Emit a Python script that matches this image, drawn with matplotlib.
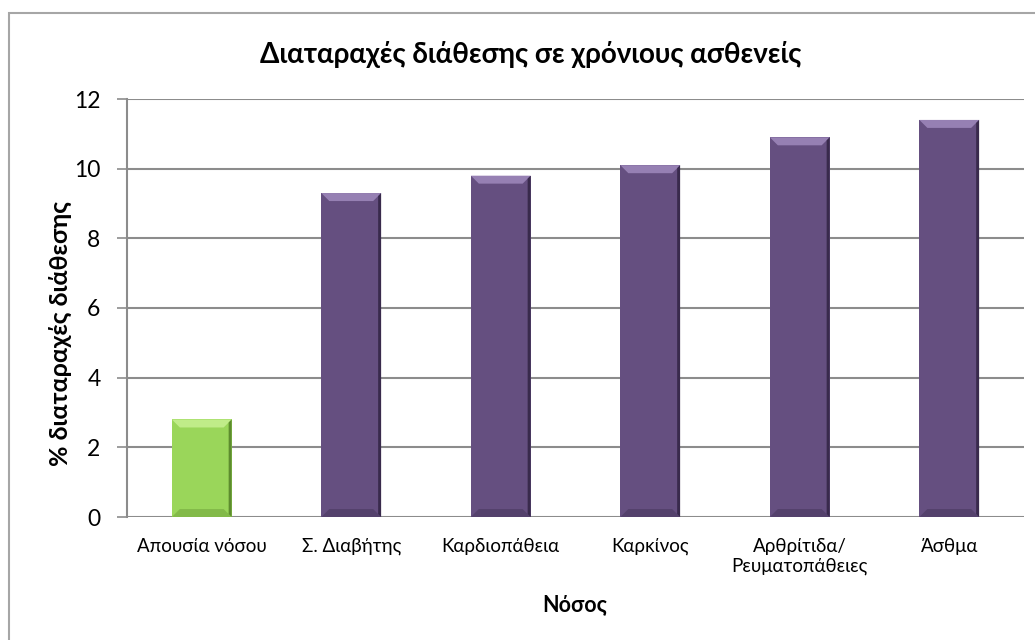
import matplotlib
matplotlib.use("Agg")
import matplotlib.pyplot as plt
from matplotlib.patches import Rectangle, Polygon

categories = ["Απουσία νόσου", "Σ. Διαβήτης", "Καρδιοπάθεια", "Καρκίνος",
              "Αρθρίτιδα/\nΡευματοπάθειες", "Άσθμα"]
values = [2.8, 9.3, 9.8, 10.1, 10.9, 11.4]
yticks = [0, 2, 4, 6, 8, 10, 12]
title = "Διαταραχές διάθεσης σε χρόνιους ασθενείς"
xlabel = "Νόσος"
ylabel = "% διαταραχές διάθεσης"

FONT = ["Lato", "DejaVu Sans"]
plt.rcParams["font.family"] = FONT

W, H = 1035, 640
fig = plt.figure(figsize=(W / 100, H / 100), dpi=100)
fig.patch.set_facecolor("white")

# outer chart frame (right/bottom edges outside the image)
fig.patches.append(Rectangle((9 / W, -0.2), 1.5, (H - 13) / H + 0.2,
                             transform=fig.transFigure, fill=False,
                             edgecolor="#a6a6a6", linewidth=1.5, zorder=0))

ax = fig.add_axes([127 / W, (H - 517) / H, (1024 - 127) / W, (517 - 99) / H])
x = list(range(len(categories)))
colors = ["#9ad65a"] + ["#654f80"] * (len(categories) - 1)
tops = ["#c5ef8f"] + ["#9c86b9"] * (len(categories) - 1)
darks = ["#4e7a24"] + ["#2e2140"] * (len(categories) - 1)
bars = ax.bar(x, values, width=0.4, color=colors, zorder=3,
              edgecolor="none")

ax.set_xlim(-0.5, len(categories) - 0.5)
ax.set_ylim(0, 12)
ax.set_yticks(yticks)
ax.set_xticks(x)
ax.set_xticklabels(categories, fontsize=13.5, linespacing=1.2)
ax.tick_params(axis="y", length=7, width=1.2, color="#8c8c8c", labelsize=16.5,
               pad=12)
ax.tick_params(axis="x", length=0, pad=15)
ax.yaxis.grid(True, color="#8c8c8c", linewidth=1.5, zorder=0)
ax.set_axisbelow(True)
for s in ["top", "right", "bottom"]:
    ax.spines[s].set_visible(False)
ax.spines["left"].set_color("#8c8c8c")
ax.spines["left"].set_linewidth(1.5)

# bevel effect
fig.canvas.draw()
inv = ax.transData.inverted()
for b, tc, dc in zip(bars, tops, darks):
    x0, y0 = b.get_x(), 0
    x1, y1 = b.get_x() + b.get_width(), b.get_height()
    (px0, py0) = ax.transData.transform((x0, y0))
    (px1, py1) = ax.transData.transform((x1, y1))
    bv = 8
    def d(p):
        return inv.transform(p)
    top = [d((px0, py1)), d((px1, py1)), d((px1 - bv, py1 - bv)), d((px0 + bv, py1 - bv))]
    ax.add_patch(Polygon(top, closed=True, facecolor=tc, edgecolor="none", zorder=4, alpha=0.9))
    right = [d((px1, py1)), d((px1, py0)), d((px1 - 3, py0 + 3)), d((px1 - 3, py1 - 3))]
    ax.add_patch(Polygon(right, closed=True, facecolor=dc, edgecolor="none", zorder=4, alpha=0.8))
    bottom = [d((px0, py0)), d((px1, py0)), d((px1 - bv, py0 + bv)), d((px0 + bv, py0 + bv))]
    ax.add_patch(Polygon(bottom, closed=True, facecolor=dc, edgecolor="none", zorder=4, alpha=0.3))

fig.text(531 / W, 1 - 55 / H, title, ha="center", va="center",
         fontsize=20, fontweight="bold")
fig.text(575 / W, 1 - 605 / H, xlabel, ha="center", va="center",
         fontsize=15.5, fontweight="bold")
fig.text(60 / W, 1 - 333 / H, ylabel, ha="center", va="center",
         fontsize=18, fontweight="bold", rotation=90)

fig.savefig("out.png", dpi=100)
